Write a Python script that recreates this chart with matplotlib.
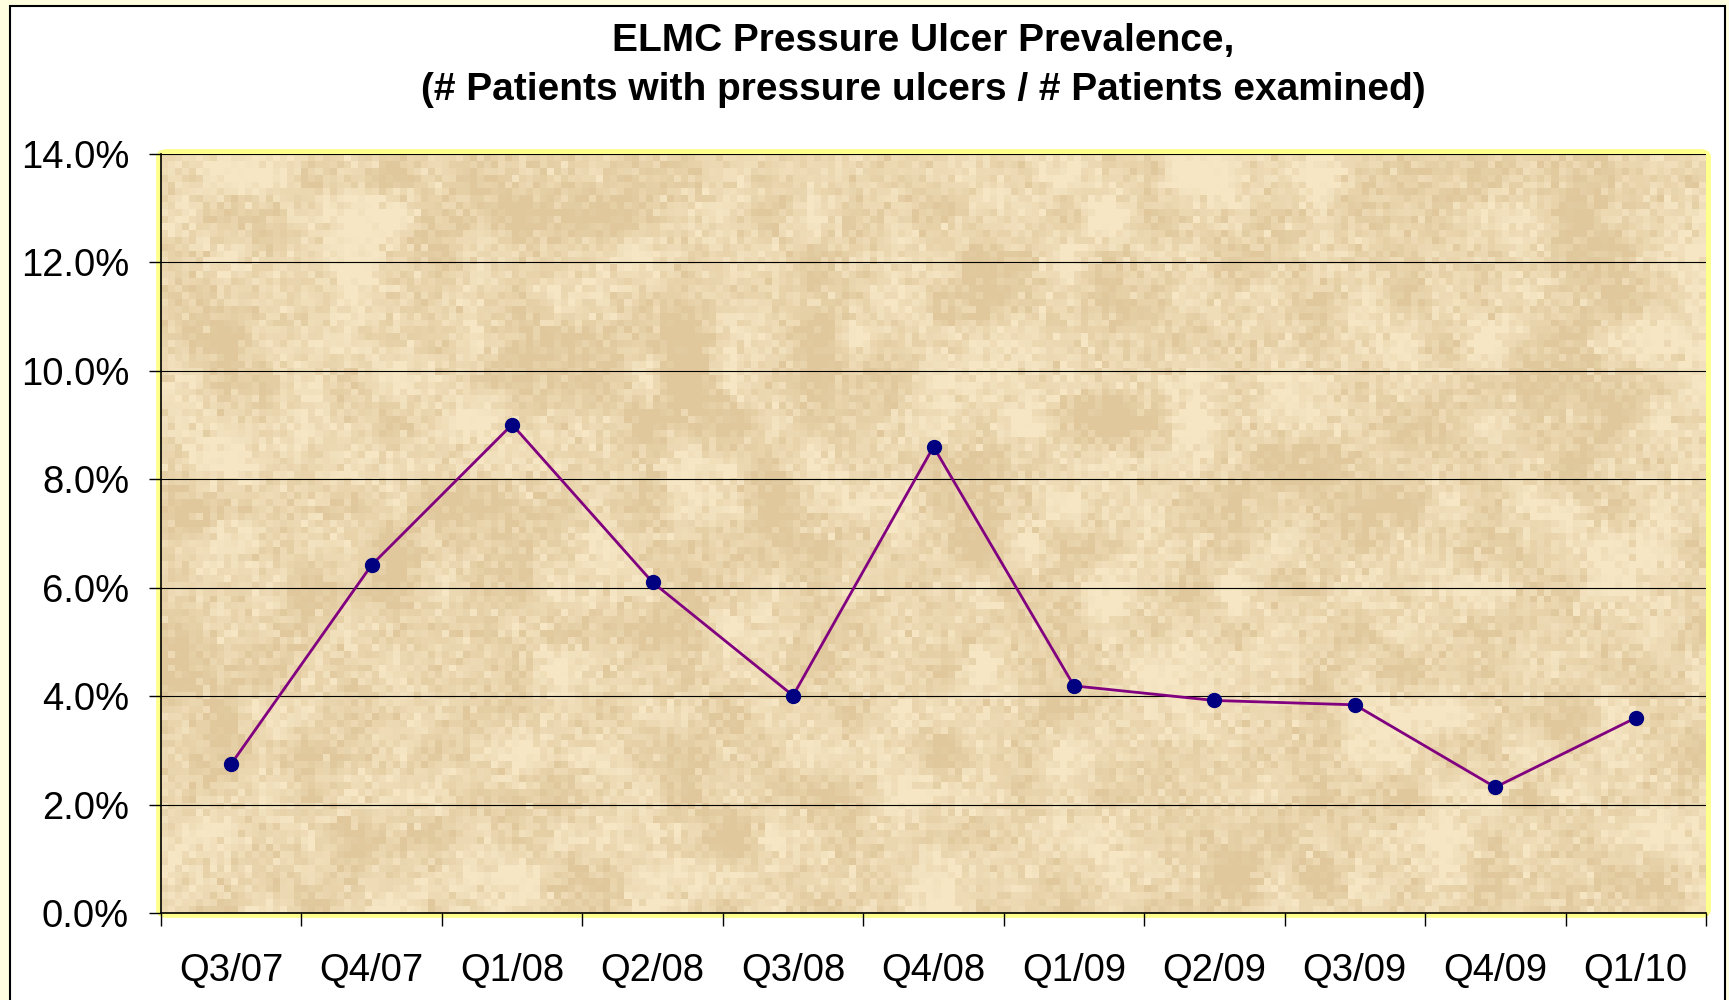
"""
ELMC Pressure Ulcer Prevalence - line chart on a parchment background
"""

import numpy as np
import matplotlib.pyplot as plt
from matplotlib.patches import Rectangle, FancyBboxPatch
from matplotlib.ticker import FuncFormatter

plt.rcParams['font.family'] = ['Liberation Sans', 'DejaVu Sans']

# Data
quarters = ['Q3/07', 'Q4/07', 'Q1/08', 'Q2/08', 'Q3/08', 'Q4/08',
            'Q1/09', 'Q2/09', 'Q3/09', 'Q4/09', 'Q1/10']
prevalence = [2.75, 6.42, 9.01, 6.10, 4.01, 8.60, 4.19, 3.92, 3.84, 2.32, 3.60]

LINE_COLOR = '#800080'
MARKER_COLOR = '#000080'
PAGE_COLOR = '#FFFFE0'
BORDER_YELLOW = '#FFFF8C'


def parchment_texture(rows=110, cols=220, seed=7):
    """Blocky beige noise that looks like the Excel parchment fill"""
    rng = np.random.default_rng(seed)
    fine = rng.normal(0, 1, (rows, cols))
    # smooth-ish low frequency blotches
    coarse = rng.normal(0, 1, (rows // 6 + 2, cols // 6 + 2))
    coarse = np.kron(coarse, np.ones((6, 6)))
    k = np.ones(5) / 5
    coarse = np.apply_along_axis(lambda r: np.convolve(r, k, mode='same'), 1, coarse)
    coarse = np.apply_along_axis(lambda c: np.convolve(c, k, mode='same'), 0, coarse)
    coarse = coarse[:rows, :cols]
    coarse = coarse / coarse.std()
    mix = 0.45 * fine + 0.5 * coarse
    mix = np.clip((mix - mix.mean()) / (3 * mix.std()) + 0.5, 0, 1)
    light = np.array([246, 230, 196]) / 255
    dark = np.array([224, 200, 156]) / 255
    return light[None, None, :] * (1 - mix[..., None]) + dark[None, None, :] * mix[..., None]


def main():
    fig = plt.figure(figsize=(17.29, 10), dpi=100)
    fig.patch.set_facecolor(PAGE_COLOR)

    # White chart area with black frame
    fig.patches.append(Rectangle((10 / 1729, -0.01), 1715 / 1729, 1.004,
                                 transform=fig.transFigure, facecolor='white',
                                 edgecolor='black', linewidth=1.5, zorder=-5))

    ax = fig.add_axes([161 / 1729, 87 / 1000, (1706 - 161) / 1729, (913 - 154) / 1000])
    ax.set_facecolor('none')
    ax.set_zorder(1)

    # yellow rounded border around plot area
    border = FancyBboxPatch((0, 0), 1, 1, boxstyle='round,pad=0.0,rounding_size=0.004',
                            transform=ax.transAxes, facecolor='none',
                            edgecolor=BORDER_YELLOW, linewidth=7, zorder=0.5, clip_on=False)
    ax.add_patch(border)

    ax.imshow(parchment_texture(), extent=[0, 1, 0, 1], transform=ax.transAxes,
              aspect='auto', interpolation='nearest', zorder=0.6)

    x = np.arange(len(quarters))
    ax.plot(x, prevalence, color=LINE_COLOR, linewidth=2, zorder=3)
    ax.plot(x, prevalence, linestyle='none', marker='o', markersize=10,
            color=MARKER_COLOR, zorder=4)

    ax.set_xlim(-0.5, len(quarters) - 0.5)
    ax.set_ylim(0, 14)

    # y axis
    ax.set_yticks(np.arange(0, 14.1, 2))
    ax.yaxis.set_major_formatter(FuncFormatter(lambda v, p: f'{v:.1f}%'))
    ax.tick_params(axis='y', direction='out', length=9, width=1, pad=14, labelsize=27.5)
    ax.yaxis.grid(True, color='black', linewidth=0.8, zorder=1)
    ax.set_axisbelow(False)

    # x axis: ticks between categories, labels at centres
    ax.set_xticks(np.arange(-0.5, len(quarters), 1.0))
    ax.set_xticklabels([])
    ax.set_xticks(x, minor=True)
    ax.set_xticklabels(quarters, minor=True)
    ax.tick_params(axis='x', which='major', direction='out', length=9, width=1)
    ax.tick_params(axis='x', which='minor', length=0, pad=29, labelsize=27.5)

    for side in ['top', 'right']:
        ax.spines[side].set_visible(False)
    for side in ['left', 'bottom']:
        ax.spines[side].set_linewidth(1.2)
        ax.spines[side].set_zorder(5)

    fig.text(0.534, 0.959, 'ELMC Pressure Ulcer Prevalence,', ha='center', va='center',
             fontsize=28, fontweight='bold')
    fig.text(0.534, 0.910, '(# Patients with pressure ulcers / # Patients examined)',
             ha='center', va='center', fontsize=28, fontweight='bold')

    plt.savefig('out.png', dpi=100, facecolor=fig.get_facecolor())


if __name__ == "__main__":
    main()
